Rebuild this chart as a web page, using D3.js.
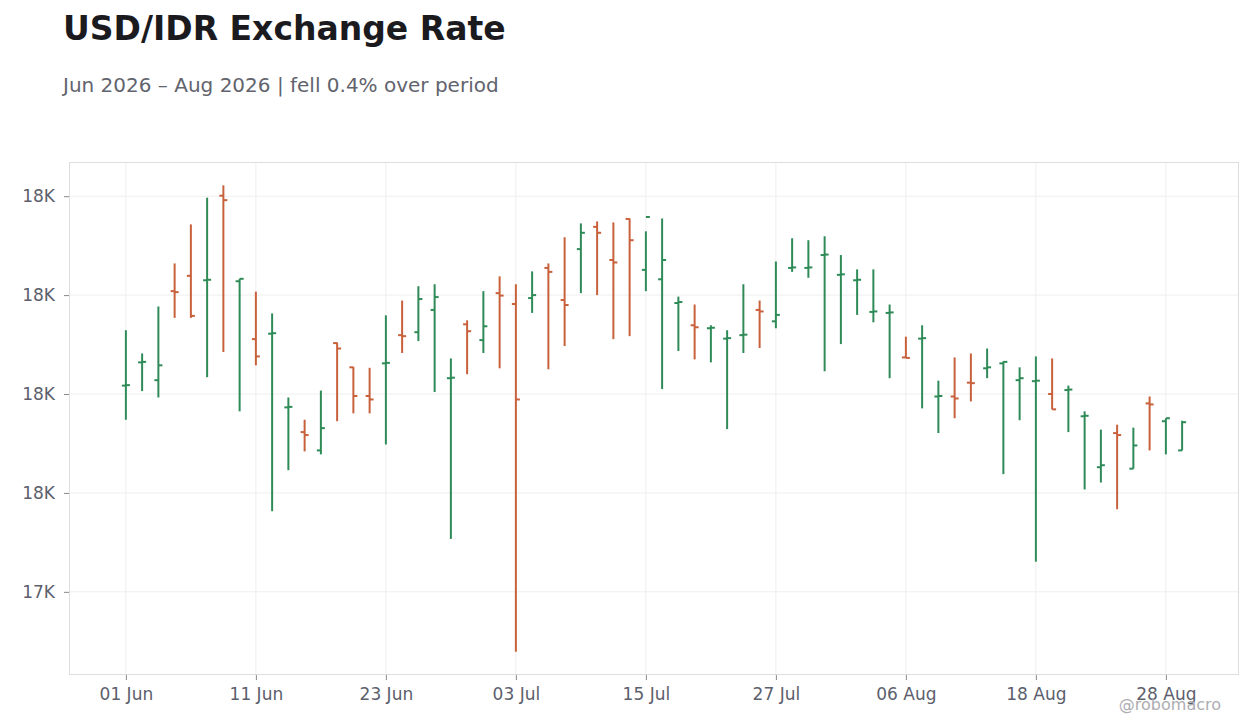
<!DOCTYPE html>
<html>
<head>
<meta charset="utf-8">
<script src="https://cdn.jsdelivr.net/npm/d3@7"></script>
<style>
  body { margin: 0; background: #fff; font-family: "DejaVu Sans", sans-serif; }
</style>
</head>
<body>
<script>
// trading days, Jun - Aug 2026
var dates = [
  "2026-06-01","2026-06-02","2026-06-03","2026-06-04","2026-06-05",
  "2026-06-08","2026-06-09","2026-06-10","2026-06-11","2026-06-12",
  "2026-06-15","2026-06-16","2026-06-17","2026-06-18","2026-06-19",
  "2026-06-22","2026-06-23","2026-06-24","2026-06-25","2026-06-26",
  "2026-06-29","2026-06-30","2026-07-01","2026-07-02","2026-07-03",
  "2026-07-06","2026-07-07","2026-07-08","2026-07-09","2026-07-10",
  "2026-07-13","2026-07-14","2026-07-15","2026-07-16","2026-07-17",
  "2026-07-20","2026-07-21","2026-07-22","2026-07-23","2026-07-24",
  "2026-07-27","2026-07-28","2026-07-29","2026-07-30","2026-07-31",
  "2026-08-03","2026-08-04","2026-08-05","2026-08-06","2026-08-07",
  "2026-08-10","2026-08-11","2026-08-12","2026-08-13","2026-08-14",
  "2026-08-17","2026-08-18","2026-08-19","2026-08-20","2026-08-21",
  "2026-08-24","2026-08-25","2026-08-26","2026-08-27","2026-08-28",
  "2026-08-31"
];

var open = [
  17817, 17864, 17828, 18008, 18039, 18030, 18201, 18028, 17911, 17922,
  17773, 17723, 17686, 17903, 17854, 17796, 17862, 17919, 17925, 17970,
  17832, 17941, 17909, 18004, 17982, 17994, 18055, 17990, 18093, 18138,
  18071, 18154, 18051, 18032, 17984, 17939, 17933, 17912, 17919, 17970,
  17947, 18055, 18055, 18081, 18041, 18030, 17966, 17964, 17874, 17912,
  17795, 17795, 17823, 17852, 17862, 17828, 17826, 17800, 17808, 17755,
  17652, 17721, 17649, 17781, 17745, 17686
];
var high = [
  17929, 17882, 17977, 18064, 18143, 18197, 18222, 18033, 18007, 17963,
  17793, 17748, 17807, 17904, 17855, 17853, 17959, 17989, 18018, 18022,
  17872, 17949, 18008, 18038, 18022, 18048, 18064, 18117, 18145, 18149,
  18147, 18155, 18129, 18155, 17997, 17981, 17939, 17929, 18022, 17989,
  18068, 18115, 18111, 18119, 18081, 18052, 18052, 17981, 17916, 17939,
  17827, 17874, 17882, 17892, 17866, 17854, 17876, 17872, 17817, 17765,
  17728, 17738, 17732, 17795, 17751, 17746
];
var low = [
  17748, 17806, 17793, 17954, 17954, 17834, 17885, 17765, 17858, 17563,
  17646, 17684, 17678, 17745, 17761, 17761, 17698, 17883, 17907, 17804,
  17507, 17840, 17883, 17852, 17279, 17964, 17850, 17897, 18004, 18000,
  17911, 17917, 18008, 17810, 17887, 17870, 17864, 17729, 17883, 17893,
  17933, 18047, 18035, 17846, 17901, 17960, 17945, 17832, 17873, 17771,
  17721, 17751, 17785, 17832, 17638, 17747, 17461, 17769, 17723, 17607,
  17621, 17567, 17649, 17686, 17678, 17686
];
var close = [
  17818, 17865, 17858, 18006, 17958, 18031, 18192, 18033, 17876, 17923,
  17774, 17717, 17731, 17892, 17796, 17789, 17863, 17917, 17992, 17996,
  17833, 17927, 17937, 17999, 17789, 18000, 18047, 17980, 18126, 18126,
  18066, 18111, 18158, 18071, 17986, 17935, 17934, 17913, 17920, 17967,
  17960, 18056, 18056, 18082, 18042, 18031, 17967, 17965, 17873, 17913,
  17796, 17791, 17822, 17854, 17865, 17832, 17827, 17769, 17809, 17756,
  17656, 17717, 17696, 17779, 17751, 17743
];

var width = 1260,
  height = 728;
var margin = { top: 162, right: 21, bottom: 53, left: 69 };

var upColor = "#2e8b57",
  downColor = "#c8603c";

var parseDate = d3.timeParse("%Y-%m-%d");
var fmtDate = d3.timeFormat("%d %b");

var bars = dates.map(function(d, i) {
  return { date: d, o: open[i], h: high[i], l: low[i], c: close[i] };
});

var svg = d3
  .select("body")
  .append("svg")
  .attr("width", width)
  .attr("height", height);

// header
var change = (close[close.length - 1] - open[0]) / open[0] * 100;
svg
  .append("text")
  .attr("x", 63)
  .attr("y", 40)
  .attr("font-size", 33)
  .attr("font-weight", "bold")
  .attr("fill", "#1b1b1f")
  .text("USD/IDR Exchange Rate");

svg
  .append("text")
  .attr("x", 63)
  .attr("y", 92)
  .attr("font-size", 20)
  .attr("fill", "#62636d")
  .text(
    "Jun 2026 \u2013 Aug 2026 | " +
      (change < 0 ? "fell " : "rose ") +
      Math.abs(change).toFixed(1) +
      "% over period"
  );

var x = d3
  .scalePoint()
  .domain(dates)
  .range([margin.left, width - margin.right])
  .padding(3.5);

var minLow = d3.min(low),
  maxHigh = d3.max(high),
  pad = (maxHigh - minLow) * 0.05;

var y = d3
  .scaleLinear()
  .domain([minLow - pad, maxHigh + pad])
  .range([height - margin.bottom, margin.top]);

var xTicks = dates.filter(function(d, i) {
  return i % 8 === 0;
});
var yTicks = y.ticks(5);

// grid
svg
  .append("g")
  .selectAll("line")
  .data(xTicks)
  .join("line")
  .attr("x1", function(d) { return x(d); })
  .attr("x2", function(d) { return x(d); })
  .attr("y1", margin.top)
  .attr("y2", height - margin.bottom)
  .attr("stroke", "#eeeeee");

svg
  .append("g")
  .selectAll("line")
  .data(yTicks)
  .join("line")
  .attr("x1", margin.left)
  .attr("x2", width - margin.right)
  .attr("y1", function(d) { return y(d); })
  .attr("y2", function(d) { return y(d); })
  .attr("stroke", "#eeeeee");

// frame
svg
  .append("rect")
  .attr("x", margin.left + 0.5)
  .attr("y", margin.top + 0.5)
  .attr("width", width - margin.left - margin.right - 1)
  .attr("height", height - margin.top - margin.bottom - 1)
  .attr("fill", "none")
  .attr("stroke", "#dddddd");

// axes
var xAxis = svg
  .append("g")
  .attr("transform", "translate(0," + (height - margin.bottom) + ")")
  .call(
    d3
      .axisBottom(x)
      .tickValues(xTicks)
      .tickSize(5)
      .tickPadding(8)
      .tickFormat(function(d) { return fmtDate(parseDate(d)); })
  );

var yAxis = svg
  .append("g")
  .attr("transform", "translate(" + margin.left + ",0)")
  .call(
    d3
      .axisLeft(y)
      .tickValues(yTicks)
      .tickSize(5)
      .tickPadding(9)
      .tickFormat(function(d) { return d3.format(".2s")(d).replace("k", "K"); })
  );

[xAxis, yAxis].forEach(function(g) {
  g.select(".domain").remove();
  g.selectAll(".tick line").attr("stroke", "#888888");
  g.selectAll(".tick text")
    .attr("fill", "#5c606c")
    .attr("font-size", 17)
    .attr("font-family", "DejaVu Sans, sans-serif");
});

// ohlc bars
var tickLen = 4;
var g = svg.append("g").attr("stroke-width", 2);

var bar = g
  .selectAll("g")
  .data(bars)
  .join("g")
  .attr("stroke", function(d) { return d.c >= d.o ? upColor : downColor; });

bar
  .append("line")
  .attr("x1", function(d) { return x(d.date); })
  .attr("x2", function(d) { return x(d.date); })
  .attr("y1", function(d) { return y(d.h); })
  .attr("y2", function(d) { return y(d.l); });

bar
  .append("line")
  .attr("x1", function(d) { return x(d.date) - tickLen; })
  .attr("x2", function(d) { return x(d.date); })
  .attr("y1", function(d) { return y(d.o); })
  .attr("y2", function(d) { return y(d.o); });

bar
  .append("line")
  .attr("x1", function(d) { return x(d.date); })
  .attr("x2", function(d) { return x(d.date) + tickLen; })
  .attr("y1", function(d) { return y(d.c); })
  .attr("y2", function(d) { return y(d.c); });

// watermark
svg
  .append("text")
  .attr("x", 1221)
  .attr("y", 710)
  .attr("text-anchor", "end")
  .attr("font-size", 16)
  .attr("fill", "#adadb2")
  .text("@robomacro");
</script>
</body>
</html>
